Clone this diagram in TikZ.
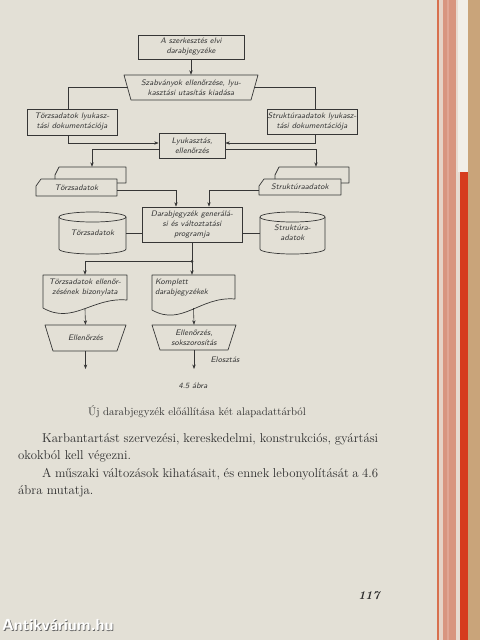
\documentclass[tikz,border=0pt]{standalone}
\usepackage{fontspec}
\usetikzlibrary{arrows.meta,calc}
\definecolor{paper}{HTML}{E3E0D6}
\definecolor{ink}{HTML}{363636}
\definecolor{txt}{HTML}{2C2C2C}
\definecolor{edgeline}{HTML}{D8704E}
\definecolor{edgecream}{HTML}{E6D3C6}
\definecolor{edgesalmon}{HTML}{D8957F}
\definecolor{edgesalmonlt}{HTML}{E0A694}
\definecolor{edgepale}{HTML}{E7DAD0}
\definecolor{edgewhite}{HTML}{F1EEE8}
\definecolor{edgered}{HTML}{D63C1E}
\definecolor{cardboard}{HTML}{C9A47A}
\tikzset{
  dg/.style={font=\fontsize{8}{10}\selectfont\sffamily\itshape\addfontfeature{FakeStretch=0.86}, text=ink, inner sep=0pt, align=center},
  boxnode/.style={dg, draw=ink, line width=0.7pt},
  ghost/.style={dg, draw=none},
  conn/.style={draw=ink, line width=0.6pt},
  arr/.style={conn, -{Stealth[length=4.5pt,width=3.4pt]}},
  outline/.style={draw=ink, line width=0.7pt, line join=round},
  bodytext/.style={font=\fontsize{12.8}{17.6}\selectfont\rmfamily, text=txt, inner sep=0pt},
}
\begin{document}
\begin{tikzpicture}[x=1pt,y=-1pt]
\useasboundingbox (0,0) rectangle (480,640);
% page and edge
\fill[paper] (0,0) rectangle (437,640);
\fill[edgeline] (437,0) rectangle (438.5,640);
\fill[edgecream] (438.5,0) rectangle (442.5,640);
\fill[edgesalmon] (442.5,0) rectangle (456,640);
\fill[edgesalmonlt] (447,0) rectangle (449,640);
\fill[edgepale] (456,0) rectangle (460,640);
\fill[edgewhite] (458,0) rectangle (468,172);
\fill[edgered] (460,172) rectangle (468,640);
\fill[cardboard] (468,0) rectangle (480,640);

% top
\node[boxnode, minimum width=106pt, minimum height=24pt] (top) at (191,47) {A szerkesztés elvi\\darabjegyzéke};
\node[ghost, minimum width=127pt, minimum height=25pt] (trap) at (191,87.5) {Szabványok ellenőrzése, lyu-\\kasztási utasítás kiadása};
\draw[outline] (124,75) -- (258,75) -- (251,100) -- (131,100) -- cycle;
\draw[arr] (top.south) -- (trap.north);

% punched documentation
\node[boxnode, minimum width=90pt, minimum height=26pt] (lb) at (72,122) {Törzsadatok lyukasz-\\tási dokumentációja};
\node[boxnode, minimum width=90pt, minimum height=25pt] (rb) at (312,121.5) {Struktúraadatok lyukasz-\\tási dokumentációja};
\draw[conn] (trap.west) -| ([xshift=-4pt]lb.north);
\draw[conn] (trap.east) -| ([xshift=3pt]rb.north);

\node[boxnode, minimum width=66pt, minimum height=25pt] (mid) at (192,146) {Lyukasztás,\\ellenőrzés};
\draw[arr] ([xshift=-4pt]lb.south) |- ([yshift=3pt]mid.west);
\draw[arr] ([xshift=3pt]rb.south) |- ([yshift=3pt]mid.east);

% card decks
\node[ghost, minimum width=71pt, minimum height=16pt] (tback) at (90.5,175) {};
\node[ghost, minimum width=81pt, minimum height=17pt] (tfront) at (76.5,187.5) {Törzsadatok};
\draw[outline] (55,179) -- (55,175) -- (59,167) -- (126,167) -- (126,183) -- (117,183);
\draw[outline] (36,186) -- (41,179) -- (117,179) -- (117,196) -- (36,196) -- cycle;

\node[ghost, minimum width=74pt, minimum height=16pt] (sback) at (312,175) {};
\node[ghost, minimum width=82pt, minimum height=16pt] (sfront) at (300,187) {Struktúraadatok};
\draw[outline] (275,179) -- (275,175) -- (279,167) -- (349,167) -- (349,183) -- (341,183);
\draw[outline] (259,186) -- (264,179) -- (341,179) -- (341,195) -- (259,195) -- cycle;

\draw[arr] ([yshift=-3pt]mid.west) -| ([xshift=1.5pt]tback.north);
\draw[arr] ([yshift=-3pt]mid.east) -| ([xshift=4pt]sback.north);

% program
\node[boxnode, minimum width=100pt, minimum height=35pt] (prog) at (192,224.5) {Darabjegyzék generálá-\\si és változtatási\\programja};
\draw[arr] ([yshift=-2.5pt]tfront.east) -| ([xshift=-16pt]prog.north);
\draw[arr] ([yshift=-3pt]sfront.west) -| ([xshift=17pt]prog.north);

% cylinders
\node[ghost, minimum width=67pt, minimum height=30pt] (tcyl) at (92.5,233) {Törzsadatok};
\draw[outline] (92.5,217) ellipse[x radius=33.5pt, y radius=5pt];
\draw[outline] (59,217) -- (59,249) arc[start angle=180, end angle=360, x radius=33.5pt, y radius=5pt] -- (126,217);
\node[ghost, minimum width=65pt, minimum height=30pt] (scyl) at (292.5,233) {Struktúra-\\adatok};
\draw[outline] (292.5,217) ellipse[x radius=32.5pt, y radius=5pt];
\draw[outline] (260,217) -- (260,249) arc[start angle=180, end angle=360, x radius=32.5pt, y radius=5pt] -- (325,217);
\draw[conn] (tcyl.east) -- (tcyl.east -| prog.west);
\draw[conn] (scyl.west) -- (scyl.west -| prog.east);

% documents
\node[ghost, minimum width=84pt, minimum height=25pt] (ldoc) at (85,287.5) {Törzsadatok ellenőr-\\zésének bizonylata};
\draw[outline] (43,308) -- (43,275) -- (127,275) -- (127,300) .. controls (92,297) and (73,325) .. (43,308);
\node[ghost, minimum width=83pt, minimum height=25pt, text width=77pt, align=left] (rdoc) at (193.5,287.5) {Komplett\\darabjegyzékek};
\draw[outline] (152,310) -- (152,275) -- (235,275) -- (235,299) .. controls (200,296) and (182,327) .. (152,310);

\coordinate (J) at ($(prog.south)+(0,19)$);
\draw[conn] (prog.south) -- (J);
\fill[ink] (J) circle[radius=1.4pt];
\draw[arr] (J) -- (J |- rdoc.north);
\draw[arr] (J) -| (ldoc.north);

% trapezoids
\node[ghost, minimum width=81pt, minimum height=26pt] (ltrap) at (85.5,338) {Ellenőrzés};
\draw[outline] (45,325) -- (126,325) -- (117,351) -- (53,351) -- cycle;
\node[ghost, minimum width=84pt, minimum height=25pt] (rtrap) at (194,337.5) {Ellenőrzés,\\sokszorosítás};
\draw[outline] (152,325) -- (236,325) -- (228,350) -- (160,350) -- cycle;
\draw[arr] ([yshift=-9pt]ldoc.south) -- (ltrap.north);
\draw[arr] ([yshift=-8pt]rdoc.south) -- (rtrap.north);

\coordinate (lend) at (85.5,369);
\coordinate (rend) at (194,369);
\draw[arr] (ltrap.south) -- (lend);
\draw[arr] (rtrap.south) -- (rend);
\node[dg] (elo) at (225,360) {Elosztás};

% captions
\node[dg] (fignum) at (193,386) {4.5 ábra};
\node[bodytext, font=\fontsize{11}{13}\selectfont\rmfamily\addfontfeature{LetterSpace=5}] (caption) at (197,412) {Új darabjegyzék előállítása két alapadattárból};

% body text
\node[bodytext, anchor=north west, text width=360pt, align=justify] (body) at (18,433) {%
\parindent=24pt\indent Karbantartást szervezési, kereskedelmi, konstrukciós, gyártási\linebreak okokból kell végezni.\par
\indent A műszaki változások kihatásait, és ennek lebonyolítását a 4.6\linebreak ábra mutatja.};

\node[font=\fontsize{12}{14}\selectfont\rmfamily\bfseries\itshape, text=txt, inner sep=0pt] (pageno) at (369,596) {117};

% watermark
\node[font=\fontsize{16}{16}\selectfont\sffamily\bfseries, text=black!60, anchor=west, inner sep=0pt] (wms) at (2.8,625.8) {Antikvárium.hu};
\node[font=\fontsize{16}{16}\selectfont\sffamily\bfseries, text=white, anchor=west, inner sep=0pt] (wm) at (2,625) {Antikvárium.hu};
\end{tikzpicture}
\end{document}
